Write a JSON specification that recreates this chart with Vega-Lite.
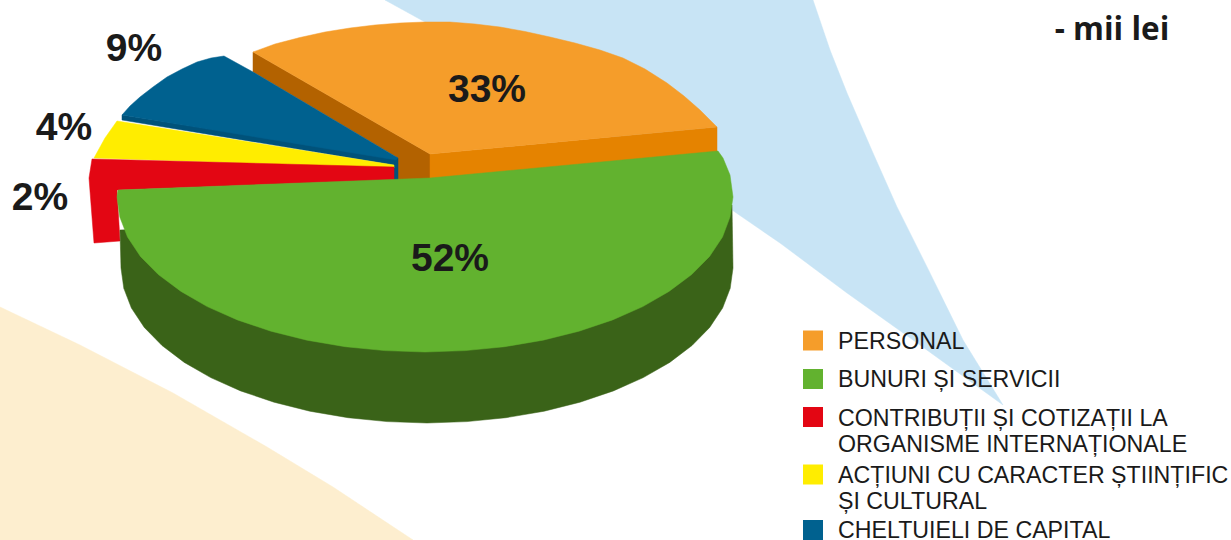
{"$schema":"https://vega.github.io/schema/vega-lite/v6.json","width":1231,"height":540,"padding":0,"autosize":"none","background":"#ffffff","config":{"view":{"stroke":null}},
"datasets":{
"shapes":[
{"part":"bgBeige","o":1,"x":0,"y":307},{"part":"bgBeige","o":2,"x":80,"y":345},{"part":"bgBeige","o":3,"x":173,"y":393},{"part":"bgBeige","o":4,"x":267,"y":447},{"part":"bgBeige","o":5,"x":333,"y":487},{"part":"bgBeige","o":6,"x":413,"y":540},{"part":"bgBeige","o":7,"x":0,"y":540},
{"part":"bgBlue","o":1,"x":385,"y":0},{"part":"bgBlue","o":2,"x":425,"y":22},{"part":"bgBlue","o":3,"x":732,"y":210},{"part":"bgBlue","o":4,"x":780,"y":243},{"part":"bgBlue","o":5,"x":847,"y":293},{"part":"bgBlue","o":6,"x":913,"y":340},{"part":"bgBlue","o":7,"x":1003,"y":405},{"part":"bgBlue","o":8,"x":963,"y":340},{"part":"bgBlue","o":9,"x":930,"y":273},{"part":"bgBlue","o":10,"x":897,"y":207},{"part":"bgBlue","o":11,"x":873,"y":153},{"part":"bgBlue","o":12,"x":847,"y":93},{"part":"bgBlue","o":13,"x":830,"y":50},{"part":"bgBlue","o":14,"x":813,"y":0},
{"part":"orangeLeft","o":1,"x":253,"y":52},{"part":"orangeLeft","o":2,"x":430,"y":154},{"part":"orangeLeft","o":3,"x":430,"y":180},{"part":"orangeLeft","o":4,"x":398,"y":180},{"part":"orangeLeft","o":5,"x":398,"y":158},{"part":"orangeLeft","o":6,"x":253,"y":72},
{"part":"orangeRight","o":1,"x":430,"y":154},{"part":"orangeRight","o":2,"x":717,"y":127},{"part":"orangeRight","o":3,"x":717,"y":153},{"part":"orangeRight","o":4,"x":430,"y":180},
{"part":"orangeTop","o":1,"x":253,"y":52},{"part":"orangeTop","o":2,"x":275,"y":44},{"part":"orangeTop","o":3,"x":300,"y":37.5},{"part":"orangeTop","o":4,"x":325,"y":32},{"part":"orangeTop","o":5,"x":350,"y":28},{"part":"orangeTop","o":6,"x":375,"y":25},{"part":"orangeTop","o":7,"x":400,"y":23},{"part":"orangeTop","o":8,"x":425,"y":22},{"part":"orangeTop","o":9,"x":450,"y":22},{"part":"orangeTop","o":10,"x":475,"y":24},{"part":"orangeTop","o":11,"x":500,"y":27},{"part":"orangeTop","o":12,"x":525,"y":31.5},{"part":"orangeTop","o":13,"x":550,"y":37},{"part":"orangeTop","o":14,"x":575,"y":43},{"part":"orangeTop","o":15,"x":600,"y":50},{"part":"orangeTop","o":16,"x":623,"y":58},{"part":"orangeTop","o":17,"x":645,"y":69},{"part":"orangeTop","o":18,"x":667,"y":83},{"part":"orangeTop","o":19,"x":684,"y":96},{"part":"orangeTop","o":20,"x":700,"y":110},{"part":"orangeTop","o":21,"x":717,"y":127},{"part":"orangeTop","o":22,"x":430,"y":154},
{"part":"blueDark","o":1,"x":122,"y":115},{"part":"blueDark","o":2,"x":398,"y":158},{"part":"blueDark","o":3,"x":398,"y":180},{"part":"blueDark","o":4,"x":394,"y":180},{"part":"blueDark","o":5,"x":394,"y":165},{"part":"blueDark","o":6,"x":122,"y":120},
{"part":"blueTop","o":1,"x":122,"y":115},{"part":"blueTop","o":2,"x":130,"y":106},{"part":"blueTop","o":3,"x":140,"y":97},{"part":"blueTop","o":4,"x":153,"y":87},{"part":"blueTop","o":5,"x":167,"y":77},{"part":"blueTop","o":6,"x":182,"y":69},{"part":"blueTop","o":7,"x":197,"y":62},{"part":"blueTop","o":8,"x":211,"y":58},{"part":"blueTop","o":9,"x":224,"y":56},{"part":"blueTop","o":10,"x":253,"y":72},{"part":"blueTop","o":11,"x":398,"y":158},{"part":"blueTop","o":12,"x":396,"y":160},
{"part":"yellow","o":1,"x":117,"y":121},{"part":"yellow","o":2,"x":394,"y":165},{"part":"yellow","o":3,"x":394,"y":168},{"part":"yellow","o":4,"x":94,"y":158},{"part":"yellow","o":5,"x":105,"y":138},
{"part":"red","o":1,"x":92,"y":159},{"part":"red","o":2,"x":394,"y":167},{"part":"red","o":3,"x":394,"y":180},{"part":"red","o":4,"x":117,"y":190},{"part":"red","o":5,"x":120,"y":241},{"part":"red","o":6,"x":94,"y":243},{"part":"red","o":7,"x":89,"y":178},
{"part":"greenSide","o":1,"x":732,"y":205},{"part":"greenSide","o":2,"x":733,"y":268},{"part":"greenSide","o":3,"x":730.2,"y":288.3},{"part":"greenSide","o":4,"x":722.6,"y":308},{"part":"greenSide","o":5,"x":709.7,"y":327.4},{"part":"greenSide","o":6,"x":692,"y":345.5},{"part":"greenSide","o":7,"x":669.7,"y":362.4},{"part":"greenSide","o":8,"x":643.3,"y":377.6},{"part":"greenSide","o":9,"x":613.4,"y":390.9},{"part":"greenSide","o":10,"x":580,"y":402.2},{"part":"greenSide","o":11,"x":544.2,"y":411.2},{"part":"greenSide","o":12,"x":506,"y":417.7},{"part":"greenSide","o":13,"x":467,"y":421.6},{"part":"greenSide","o":14,"x":427,"y":423},{"part":"greenSide","o":15,"x":387,"y":421.6},{"part":"greenSide","o":16,"x":348,"y":417.7},{"part":"greenSide","o":17,"x":309.8,"y":411.2},{"part":"greenSide","o":18,"x":274,"y":402.2},{"part":"greenSide","o":19,"x":240.6,"y":390.9},{"part":"greenSide","o":20,"x":210.7,"y":377.6},{"part":"greenSide","o":21,"x":184.3,"y":362.4},{"part":"greenSide","o":22,"x":162,"y":345.5},{"part":"greenSide","o":23,"x":144.3,"y":327.4},{"part":"greenSide","o":24,"x":131.4,"y":308},{"part":"greenSide","o":25,"x":123.8,"y":288.3},{"part":"greenSide","o":26,"x":121,"y":268},{"part":"greenSide","o":27,"x":120,"y":230},
{"part":"greenTop","o":1,"x":118,"y":190},{"part":"greenTop","o":2,"x":430,"y":178},{"part":"greenTop","o":3,"x":718,"y":151},{"part":"greenTop","o":4,"x":723,"y":158},{"part":"greenTop","o":5,"x":730,"y":175},{"part":"greenTop","o":6,"x":733,"y":197},{"part":"greenTop","o":7,"x":730,"y":217},{"part":"greenTop","o":8,"x":722.5,"y":237},{"part":"greenTop","o":9,"x":709.6,"y":256.4},{"part":"greenTop","o":10,"x":691.7,"y":274.5},{"part":"greenTop","o":11,"x":669,"y":291.4},{"part":"greenTop","o":12,"x":642.8,"y":306.6},{"part":"greenTop","o":13,"x":612.6,"y":319.9},{"part":"greenTop","o":14,"x":579,"y":331.2},{"part":"greenTop","o":15,"x":543,"y":340.2},{"part":"greenTop","o":16,"x":504.8,"y":346.7},{"part":"greenTop","o":17,"x":465.3,"y":350.6},{"part":"greenTop","o":18,"x":425,"y":352},{"part":"greenTop","o":19,"x":384.7,"y":350.6},{"part":"greenTop","o":20,"x":345.2,"y":346.7},{"part":"greenTop","o":21,"x":307,"y":340.2},{"part":"greenTop","o":22,"x":271,"y":331.2},{"part":"greenTop","o":23,"x":237.4,"y":319.9},{"part":"greenTop","o":24,"x":207.2,"y":306.6},{"part":"greenTop","o":25,"x":181,"y":291.4},{"part":"greenTop","o":26,"x":158.3,"y":274.5},{"part":"greenTop","o":27,"x":140.4,"y":256.4},{"part":"greenTop","o":28,"x":127.5,"y":237},{"part":"greenTop","o":29,"x":119.8,"y":217},{"part":"greenTop","o":30,"x":117,"y":197}
],
"percents":[{"label":"33%","x":487,"y":90},{"label":"52%","x":450,"y":259},{"label":"2%","x":40,"y":198},{"label":"4%","x":64,"y":128},{"label":"9%","x":134,"y":49}],
"unit":[{"label":"- mii lei","x":1112,"y":31}],
"legend":[
{"cat":"PERSONAL","label":"PERSONAL","x":813,"y":340.5,"tx":838,"ty":341.5},
{"cat":"BUNURI","label":"BUNURI ȘI SERVICII","x":813,"y":379,"tx":838,"ty":380},
{"cat":"CONTRIB","label":"CONTRIBUȚII ȘI COTIZAȚII LA\nORGANISME INTERNAȚIONALE","x":813,"y":417,"tx":838,"ty":419},
{"cat":"ACTIUNI","label":"ACȚIUNI CU CARACTER ȘTIINȚIFIC\nȘI CULTURAL","x":813,"y":474.5,"tx":838,"ty":476},
{"cat":"CAPITAL","label":"CHELTUIELI DE CAPITAL","x":813,"y":530,"tx":838,"ty":531}
]},
"layer":[
{"data":{"name":"shapes"},"mark":{"type":"line","filled":true,"strokeWidth":0.5,"interpolate":"linear-closed"},
"encoding":{"x":{"field":"x","type":"quantitative","scale":{"domain":[0,1231],"nice":false},"axis":null},"y":{"field":"y","type":"quantitative","scale":{"domain":[540,0],"nice":false},"axis":null},"order":{"field":"o","type":"quantitative"},"detail":{"field":"part"},
"fill":{"field":"part","type":"nominal","legend":null,"scale":{"domain":["bgBeige","bgBlue","orangeLeft","orangeRight","orangeTop","blueDark","blueTop","yellow","red","greenSide","greenTop"],"range":["#fdeecf","#c8e4f5","#b36200","#e58300","#f59d2a","#00527a","#00618f","#ffed00","#e30613","#3a6318","#62b22f"]}},
"stroke":{"field":"part","type":"nominal","legend":null,"scale":{"domain":["bgBeige","bgBlue","orangeLeft","orangeRight","orangeTop","blueDark","blueTop","yellow","red","greenSide","greenTop"],"range":["#fdeecf","#c8e4f5","#b36200","#e58300","#f59d2a","#00527a","#00618f","#ffed00","#e30613","#3a6318","#62b22f"]}}}},
{"data":{"name":"percents"},"mark":{"type":"text","font":"Liberation Sans","fontWeight":"bold","fontSize":39,"color":"#1a1a1a","align":"center","baseline":"middle"},
"encoding":{"x":{"field":"x","type":"quantitative"},"y":{"field":"y","type":"quantitative"},"text":{"field":"label"}}},
{"data":{"name":"unit"},"mark":{"type":"text","font":"Open Sans","fontWeight":"bold","fontSize":31.5,"color":"#1a1a1a","align":"center","baseline":"middle"},
"encoding":{"x":{"field":"x","type":"quantitative"},"y":{"field":"y","type":"quantitative"},"text":{"field":"label"}}},
{"data":{"name":"legend"},"mark":{"type":"point","shape":"square","filled":true,"size":400,"opacity":1},
"encoding":{"x":{"field":"x","type":"quantitative"},"y":{"field":"y","type":"quantitative"},"color":{"field":"cat","type":"nominal","legend":null,"scale":{"domain":["PERSONAL","BUNURI","CONTRIB","ACTIUNI","CAPITAL"],"range":["#f59d2a","#62b22f","#e30613","#ffed00","#00618f"]}}}},
{"data":{"name":"legend"},"mark":{"type":"text","font":"Liberation Sans","fontSize":23.2,"color":"#1a1a1a","align":"left","baseline":"middle","lineBreak":"\n","lineHeight":25.5},
"encoding":{"x":{"field":"tx","type":"quantitative"},"y":{"field":"ty","type":"quantitative"},"text":{"field":"label"}}}
]}
